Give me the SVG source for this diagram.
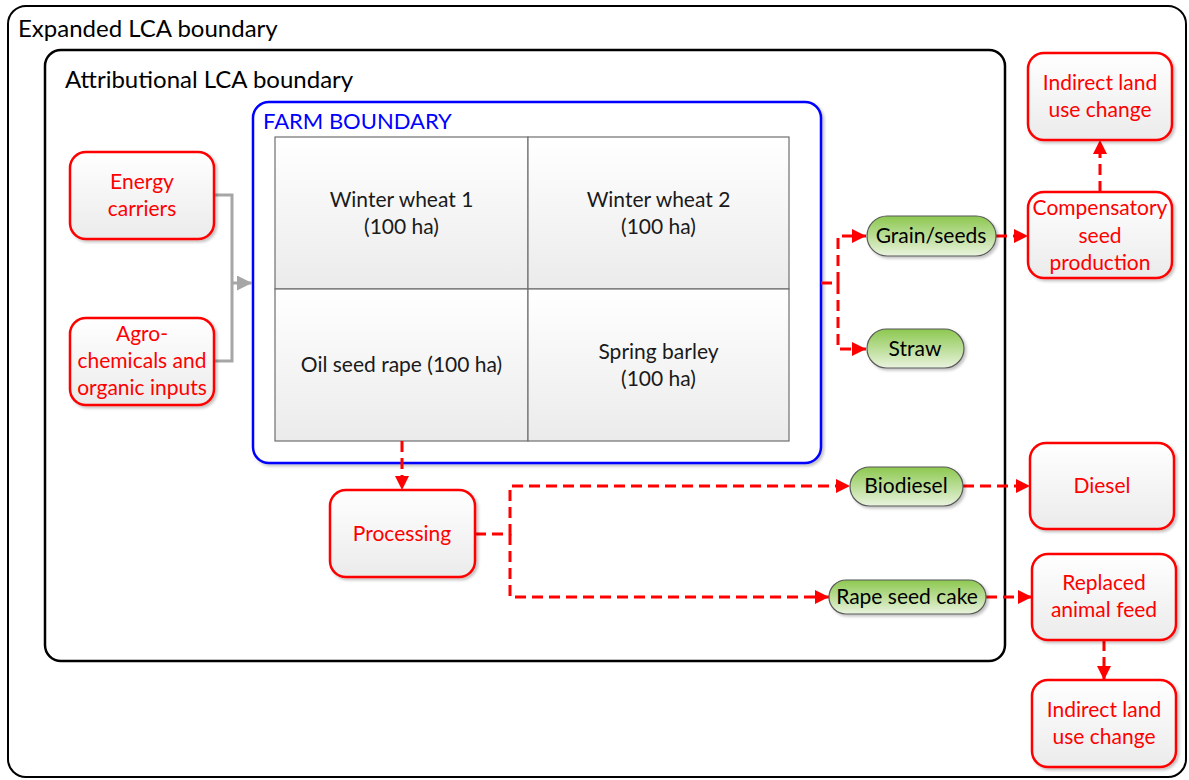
<svg xmlns="http://www.w3.org/2000/svg" width="1189" height="780" viewBox="0 0 1189 780">
  <defs>
    <linearGradient id="boxFill" x1="0" y1="0" x2="0" y2="1">
      <stop offset="0" stop-color="#ffffff"/>
      <stop offset="1" stop-color="#ebebeb"/>
    </linearGradient>
    <linearGradient id="pillFill" x1="0" y1="0" x2="0" y2="1">
      <stop offset="0" stop-color="#8cc84f"/>
      <stop offset="1" stop-color="#e9f3de"/>
    </linearGradient>
    <filter id="shadow" x="-10%" y="-10%" width="125%" height="130%">
      <feGaussianBlur in="SourceAlpha" stdDeviation="1.5"/>
      <feOffset dx="2" dy="2" result="b"/>
      <feComponentTransfer><feFuncA type="linear" slope="0.25"/></feComponentTransfer>
      <feMerge><feMergeNode/><feMergeNode in="SourceGraphic"/></feMerge>
    </filter>
    <marker id="redArrow" viewBox="0 0 12 12" refX="12" refY="6" markerWidth="14" markerHeight="14" markerUnits="userSpaceOnUse" orient="auto">
      <path d="M0,0 L12,6 L0,12 Z" fill="#ff0000"/>
    </marker>
    <marker id="grayArrow" viewBox="0 0 12 12" refX="12" refY="6" markerWidth="15" markerHeight="15" markerUnits="userSpaceOnUse" orient="auto">
      <path d="M0,0 L12,6 L0,12 Z" fill="#a6a6a6"/>
    </marker>
  </defs>
  <style>
    text { font-family: Lato, "Open Sans", "Liberation Sans", sans-serif; font-size: 21px; }
    .title { fill: #000000; font-size: 24px; }
    .farmTitle { fill: #0000ff; font-size: 22px; }
    .redBox rect { fill: url(#boxFill); stroke: #ff0000; stroke-width: 2.5; filter: url(#shadow); }
    .redBox text { fill: #ff0000; text-anchor: middle; }
    .pill rect { fill: url(#pillFill); stroke: #595959; stroke-width: 1.2; filter: url(#shadow); }
    .pill text { fill: #000000; text-anchor: middle; }
    .cell rect { fill: url(#boxFill); stroke: #6f6f6f; stroke-width: 1.2; }
    .cell text { fill: #1a1a1a; text-anchor: middle; }
    .dash { fill: none; stroke: #ff0000; stroke-width: 3; stroke-dasharray: 11 6; }
    .gray { fill: none; stroke: #a6a6a6; stroke-width: 3; }
  </style>

  <rect width="1189" height="780" fill="#ffffff"/>

  <!-- boundaries -->
  <g id="expanded-boundary">
    <rect x="8" y="6" width="1178" height="771" rx="18" fill="none" stroke="#000000" stroke-width="2"/>
    <text class="title" x="18" y="37">Expanded LCA boundary</text>
  </g>
  <g id="attributional-boundary">
    <rect x="45" y="50" width="960" height="611" rx="16" fill="none" stroke="#000000" stroke-width="2.5"/>
    <text class="title" x="65" y="88">Attributional LCA boundary</text>
  </g>
  <g id="farm-boundary">
    <rect x="253" y="102" width="568" height="361" rx="16" fill="#ffffff" stroke="#0000ff" stroke-width="2.5" filter="url(#shadow)"/>
    <text class="farmTitle" x="263" y="129">FARM BOUNDARY</text>
  </g>

  <!-- fields -->
  <g id="winter-wheat-1" class="cell">
    <rect x="275" y="137" width="253" height="152"/>
    <text x="401.5" y="207">Winter wheat 1</text>
    <text x="401.5" y="234">(100 ha)</text>
  </g>
  <g id="winter-wheat-2" class="cell">
    <rect x="528" y="137" width="261" height="152"/>
    <text x="658.5" y="207">Winter wheat 2</text>
    <text x="658.5" y="234">(100 ha)</text>
  </g>
  <g id="oil-seed-rape" class="cell">
    <rect x="275" y="289" width="253" height="152"/>
    <text x="401.5" y="372">Oil seed rape (100 ha)</text>
  </g>
  <g id="spring-barley" class="cell">
    <rect x="528" y="289" width="261" height="152"/>
    <text x="658.5" y="359">Spring barley</text>
    <text x="658.5" y="386">(100 ha)</text>
  </g>

  <!-- connectors -->
  <g id="connectors">
    <path class="gray" d="M214,195 H232 V361 H214" />
    <path class="gray" d="M232,283 H252" marker-end="url(#grayArrow)"/>

    <path class="dash" d="M821,283 H838 V236 H866" marker-end="url(#redArrow)"/>
    <path class="dash" d="M838,283 V349 H866" marker-end="url(#redArrow)"/>
    <path class="dash" d="M996,236 H1028" marker-end="url(#redArrow)"/>
    <path class="dash" d="M1100,192 V140" marker-end="url(#redArrow)"/>

    <path class="dash" d="M402,441 V490" marker-end="url(#redArrow)"/>
    <path class="dash" d="M475,534 H510 V486 H850" marker-end="url(#redArrow)"/>
    <path class="dash" d="M510,534 V597 H829" marker-end="url(#redArrow)"/>
    <path class="dash" d="M963,486 H1030" marker-end="url(#redArrow)"/>
    <path class="dash" d="M986,597 H1032" marker-end="url(#redArrow)"/>
    <path class="dash" d="M1104,640 V680" marker-end="url(#redArrow)"/>
  </g>

  <!-- input nodes -->
  <g id="energy-carriers" class="redBox">
    <rect x="70" y="152" width="144" height="87" rx="16"/>
    <text x="142" y="189">Energy</text>
    <text x="142" y="216">carriers</text>
  </g>
  <g id="agrochemicals" class="redBox">
    <rect x="70" y="318" width="144" height="87" rx="16"/>
    <text x="142" y="341">Agro-</text>
    <text x="142" y="368">chemicals and</text>
    <text x="142" y="395">organic inputs</text>
  </g>

  <!-- processing -->
  <g id="processing" class="redBox">
    <rect x="330" y="490" width="145" height="87" rx="16"/>
    <text x="402" y="541">Processing</text>
  </g>

  <!-- products -->
  <g id="grain-seeds" class="pill">
    <rect x="867" y="216" width="129" height="40" rx="20"/>
    <text x="931" y="243">Grain/seeds</text>
  </g>
  <g id="straw" class="pill">
    <rect x="867" y="329" width="97" height="39" rx="19.5"/>
    <text x="915" y="356">Straw</text>
  </g>
  <g id="biodiesel" class="pill">
    <rect x="850" y="467" width="113" height="39" rx="19.5"/>
    <text x="906" y="493">Biodiesel</text>
  </g>
  <g id="rape-seed-cake" class="pill">
    <rect x="829" y="580" width="157" height="34" rx="17"/>
    <text x="907" y="604">Rape seed cake</text>
  </g>

  <!-- expanded system nodes -->
  <g id="iluc-top" class="redBox">
    <rect x="1028" y="53" width="144" height="87" rx="16"/>
    <text x="1100" y="90">Indirect land</text>
    <text x="1100" y="117">use change</text>
  </g>
  <g id="compensatory-seed" class="redBox">
    <rect x="1028" y="192" width="144" height="86" rx="16"/>
    <text x="1100" y="215">Compensatory</text>
    <text x="1100" y="243">seed</text>
    <text x="1100" y="270">production</text>
  </g>
  <g id="diesel" class="redBox">
    <rect x="1030" y="443" width="144" height="86" rx="16"/>
    <text x="1102" y="493">Diesel</text>
  </g>
  <g id="replaced-feed" class="redBox">
    <rect x="1032" y="554" width="144" height="86" rx="16"/>
    <text x="1104" y="590">Replaced</text>
    <text x="1104" y="617">animal feed</text>
  </g>
  <g id="iluc-bottom" class="redBox">
    <rect x="1032" y="680" width="144" height="87" rx="16"/>
    <text x="1104" y="717">Indirect land</text>
    <text x="1104" y="744">use change</text>
  </g>
</svg>
